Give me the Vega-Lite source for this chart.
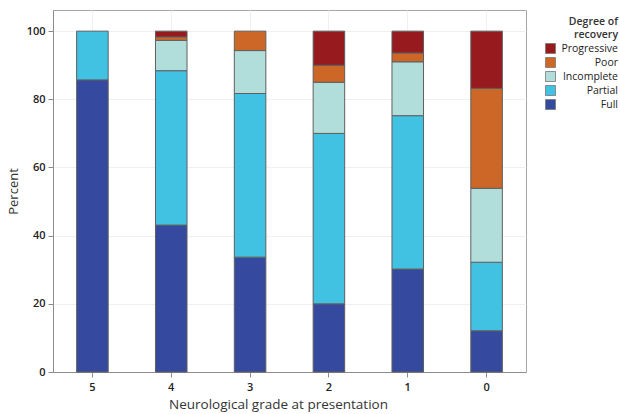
{
  "$schema": "https://vega.github.io/schema/vega-lite/v6.json",
  "autosize": {"type": "none"},
  "padding": {"left": 53, "top": 10, "right": 94, "bottom": 42},
  "width": 473,
  "height": 362,
  "background": "white",
  "config": {
    "font": "Open Sans",
    "view": {"stroke": "#a6a6a6", "strokeWidth": 1}
  },
  "data": {
    "values": [
      {"grade": "5", "recovery": "Full", "percent": 85.7},
      {"grade": "5", "recovery": "Partial", "percent": 14.3},
      {"grade": "4", "recovery": "Full", "percent": 43.1},
      {"grade": "4", "recovery": "Partial", "percent": 45.3},
      {"grade": "4", "recovery": "Incomplete", "percent": 8.9},
      {"grade": "4", "recovery": "Poor", "percent": 1.0},
      {"grade": "4", "recovery": "Progressive", "percent": 1.7},
      {"grade": "3", "recovery": "Full", "percent": 33.7},
      {"grade": "3", "recovery": "Partial", "percent": 48.0},
      {"grade": "3", "recovery": "Incomplete", "percent": 12.6},
      {"grade": "3", "recovery": "Poor", "percent": 5.7},
      {"grade": "2", "recovery": "Full", "percent": 20.0},
      {"grade": "2", "recovery": "Partial", "percent": 50.0},
      {"grade": "2", "recovery": "Incomplete", "percent": 15.0},
      {"grade": "2", "recovery": "Poor", "percent": 5.0},
      {"grade": "2", "recovery": "Progressive", "percent": 10.0},
      {"grade": "1", "recovery": "Full", "percent": 30.2},
      {"grade": "1", "recovery": "Partial", "percent": 45.0},
      {"grade": "1", "recovery": "Incomplete", "percent": 15.8},
      {"grade": "1", "recovery": "Poor", "percent": 2.6},
      {"grade": "1", "recovery": "Progressive", "percent": 6.4},
      {"grade": "0", "recovery": "Full", "percent": 12.1},
      {"grade": "0", "recovery": "Partial", "percent": 20.1},
      {"grade": "0", "recovery": "Incomplete", "percent": 21.7},
      {"grade": "0", "recovery": "Poor", "percent": 29.3},
      {"grade": "0", "recovery": "Progressive", "percent": 16.8}
    ]
  },
  "transform": [
    {"calculate": "indexof(['Full','Partial','Incomplete','Poor','Progressive'], datum.recovery)", "as": "stackOrder"}
  ],
  "mark": {"type": "bar", "stroke": "#5f5f5f", "strokeWidth": 1},
  "encoding": {
    "x": {
      "field": "grade",
      "type": "nominal",
      "sort": ["5", "4", "3", "2", "1", "0"],
      "scale": {"paddingInner": 0.6, "paddingOuter": 0.3},
      "axis": {
        "title": "Neurological grade at presentation",
        "labelAngle": 0,
        "labelFont": "Open Sans",
        "labelFontSize": 11,
        "labelFontWeight": 600,
        "labelColor": "#222222",
        "labelPadding": 4,
        "titleFont": "Open Sans",
        "titleFontSize": 13.5,
        "titleFontWeight": "normal",
        "titleColor": "#333333",
        "titlePadding": 5,
        "titleX": 225,
        "domainColor": "#8c8c8c",
        "tickColor": "#8c8c8c",
        "tickSize": 5,
        "grid": true,
        "gridColor": "#f0f0f0",
        "bandPosition": 0.5
      }
    },
    "y": {
      "field": "percent",
      "type": "quantitative",
      "stack": "zero",
      "scale": {"domain": [0, 106.2], "nice": false},
      "axis": {
        "title": "Percent",
        "values": [0, 20, 40, 60, 80, 100],
        "labelFont": "Open Sans",
        "labelFontSize": 11,
        "labelFontWeight": 600,
        "labelColor": "#222222",
        "labelPadding": 3,
        "titleFont": "Open Sans",
        "titleFontSize": 13,
        "titleFontWeight": "normal",
        "titleColor": "#333333",
        "titlePadding": 6,
        "domainColor": "#8c8c8c",
        "tickColor": "#8c8c8c",
        "tickSize": 5,
        "grid": true,
        "gridColor": "#f0f0f0"
      }
    },
    "color": {
      "field": "recovery",
      "type": "nominal",
      "scale": {
        "domain": ["Progressive", "Poor", "Incomplete", "Partial", "Full"],
        "range": ["#961a1e", "#cd6727", "#b1dedb", "#41c2e2", "#354a9f"]
      },
      "legend": {
        "title": ["Degree of", "recovery"],
        "orient": "none",
        "legendX": 492,
        "legendY": 7,
        "padding": 0,
        "titleFont": "Open Sans",
        "titleFontSize": 10.5,
        "titleFontWeight": 600,
        "titleColor": "#333333",
        "titleAnchor": "end",
        "titleAlign": "right",
        "titleLineHeight": 12.5,
        "titlePadding": 3,
        "labelFont": "Open Sans",
        "labelFontSize": 10.5,
        "labelColor": "#222222",
        "labelAlign": "right",
        "labelOffset": 62,
        "symbolType": "square",
        "symbolSize": 100,
        "symbolStrokeColor": "#777777",
        "symbolStrokeWidth": 0.8,
        "rowPadding": -1
      }
    },
    "order": {"field": "stackOrder", "type": "quantitative", "sort": "ascending"}
  }
}
